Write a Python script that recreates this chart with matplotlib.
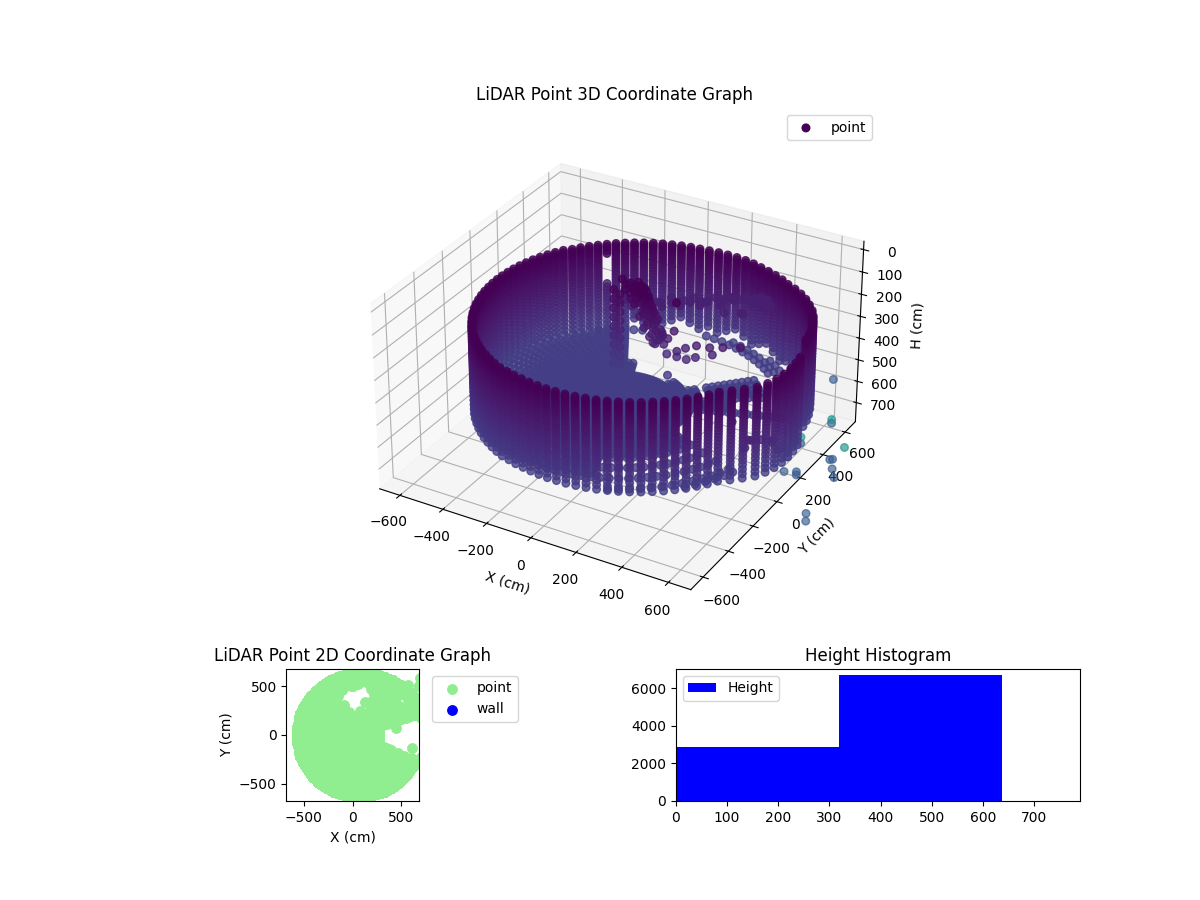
#lib for works with data
import numpy as np

#lib for plot bulding
import matplotlib
matplotlib.use("Agg")
import matplotlib.pyplot as plt
from mpl_toolkits.mplot3d import Axes3D

#DATA

#scan columns in polar form, degrees and cm
scan_angle = [
    0.0, 3.6, 7.2, 10.8, 14.4, 18.0, 21.6, 25.2, 28.8, 32.4, 36.0, 39.6, 43.2, 46.8, 50.4, 54.0, 57.6, 61.2, 64.8, 68.4,
    72.0, 75.6, 79.2, 82.8, 86.4, 90.0, 93.6, 97.2, 100.8, 104.4, 108.0, 111.6, 115.2, 118.8, 122.4, 126.0, 129.6, 133.2, 136.8, 140.4,
    144.0, 147.6, 151.2, 154.8, 158.4, 162.0, 165.6, 169.2, 172.8, 176.4, 180.0, 183.6, 187.2, 190.8, 194.4, 198.0, 201.6, 205.2, 208.8, 212.4,
    216.0, 219.6, 223.2, 226.8, 230.4, 234.0, 237.6, 241.2, 244.8, 248.4, 252.0, 255.6, 259.2, 262.8, 266.4, 270.0, 273.6, 277.2, 280.8, 284.4,
    288.0, 291.6, 295.2, 298.8, 302.4, 306.0, 309.6, 313.2, 316.8, 320.4, 324.0, 327.6, 331.2, 334.8, 338.4, 342.0, 345.6, 349.2, 352.8, 356.4,
]
wall_range = [
    756, 752, 703, 703, 730, 735, 738, 740, 741, 740, 735, 730, 722, 712, 700, 695, 688, 682, 676, 672,
    667, 660, 652, 645, 637, 630, 626, 622, 617, 613, 609, 605, 601, 597, 594, 590, 587, 584, 582, 579,
    584, 582, 580, 578, 577, 575, 574, 573, 572, 572, 572, 572, 572, 573, 574, 575, 577, 578, 580, 582,
    584, 587, 590, 592, 595, 598, 602, 605, 609, 613, 617, 617, 620, 622, 626, 630, 635, 639, 644, 648,
    652, 657, 661, 665, 669, 673, 676, 680, 683, 687, 689, 692, 694, 712, 730, 750, 758, 762, 762, 760,
]
#deepest height of each column, 0 means the column has no return
wall_bottom = [
    540, 540, 0, 0, 540, 540, 540, 540, 540, 540, 540, 540, 540, 540, 500, 520, 500, 480, 500, 520,
    500, 480, 500, 520, 500, 520, 500, 480, 500, 520, 500, 520, 500, 540, 540, 540, 540, 540, 540, 540,
    540, 540, 540, 540, 540, 540, 540, 540, 540, 540, 540, 540, 540, 540, 540, 540, 540, 540, 540, 540,
    540, 540, 540, 540, 540, 540, 540, 540, 540, 540, 540, 540, 540, 540, 540, 540, 540, 540, 540, 540,
    540, 540, 540, 540, 540, 540, 540, 540, 540, 540, 540, 540, 540, 540, 540, 540, 540, 540, 540, 540,
]
wall_levels = [150, 160, 170, 181, 192, 203, 215, 227, 239, 251, 264, 277, 290, 303, 317, 331, 346, 361, 376, 392, 408, 425, 443, 461, 480, 500, 520, 540]

#parts of a column with no return
strip_angle = [126.0]
strip_lo = [200]
strip_hi = [330]

#floor rings, and the sectors of floor that returned nothing
floor_height = 540
floor_radii = [25, 50, 75, 100, 125, 150, 175, 200, 225, 250, 275, 300, 325, 350, 375, 400, 425, 450, 475, 500, 525, 550, 575, 600, 625, 650, 675]
gap_angle_lo = [68, 108, 50, 339, 21, 30, 30, 290, 290, 290, 230]
gap_angle_hi = [108, 118, 68, 377, 30, 50, 50, 339, 339, 339, 290]
gap_range_lo = [210, 320, 275, 290, 430, 565, 310, 450, 525, 600, 590]
gap_range_hi = [610, 560, 610, 780, 650, 650, 340, 475, 550, 625, 680]

#object standing in the room
object_x = [-115, -77, -42, -11, -65, -33, 3, -51, -11, 21, -24, 12, 47, 3, 38, 70,
            -95, -60, -30, -80, -10, -40, 15, -60, 5, 35, -35, 0, 30, -15, 20, 55, -100, -75, 25, 60, 45, 75, 10, 35,
            -20, -5, -25, 5, -15, 10, -5, 20, -10, 15, 30, -20, 10, 40, 25, 50, -45, -30, -50, 60,
            -154, -154, -154, -154, -154, -154, -154, -154, -154,
            -125, -125, -125, -125, -125, -125, -125, -125, -125,
            66, 121, 93, 134, 173, 222, 281, 218, 177, 134, 26, 89, 293, 130, 339, 416, 93]
object_y = [200] * len(object_x)
object_h = [118, 126, 113, 134, 151, 172, 176, 188, 205, 218, 238, 255, 255, 293, 309, 322,
            135, 140, 150, 170, 185, 205, 200, 215, 230, 240, 265, 280, 285, 310, 330, 345, 160, 195, 265, 300, 350, 360, 345, 370,
            130, 145, 160, 165, 175, 185, 200, 210, 220, 228, 225, 250, 250, 270, 300, 320, 130, 125, 160, 330,
            176, 218, 259, 301, 343, 384, 426, 468, 510,
            190, 230, 270, 310, 350, 390, 430, 470, 510,
            309, 288, 330, 376, 351, 326, 318, 380, 401, 401, 367, 401, 347, 159, 301, 280, 497]

#returns in front of the rear wall, and low returns behind the front wall
high_x = [195, 247, 298, 178, 225, 268, 351, 571, 615, 452, 142, 60, -20, -95, -150, -170, 453, 540, 452, 530, 580,
          80, 130, 190, -35, -90, -150, -110, 0, 250, 260, 300, 230, -150, -200, 142, 60, -20, -95, 200, 250, 330, 330, 390, 440,
          -124, -170, -60, 443, 500, 400, 480]
high_y = [279, 352, 426, 336, 424, 503, 449, 517, -129, 75, 545, 525, 505, 485, 440, 370, 211, 252, 379, 282, 230,
          250, 340, 470, 240, 310, 400, 465, 500, 300, 400, 350, 480, 300, 330, 570, 590, 590, 570, 560, 520, 480, 400, 420, 330,
          530, 500, 555, 260, 240, 300, 300]
high_h = [172, 195, 267, 208, 285, 317, 217, 330, 500, 540, 331, 345, 358, 372, 363, 335, 695, 700, 170, 708, 713,
          172, 204, 254, 204, 254, 322, 345, 326, 150, 195, 158, 249, 267, 299, 322, 358, 381, 395, 299, 263, 217, 176, 167, 150,
          381, 381, 376, 726, 695, 122, 99]
high_c = [340] * len(high_x)

#far returns outside the room
far_x = [680, 680, 680, 700, 740, 745, 745, 750, 735, 735, 733, 735, 740, 745, 745, 735, 750, 750]
far_y = [500, 500, 500, 590, 370, 385, 385, 395, 110, 110, -43, -5, -18, 60, 60, -28, 150, 150]
far_h = [497, 683, 700, 856, 783, 788, 833, 878, 542, 570, 506, 538, 561, 670, 684, 624, 911, 947]
far_c = [760, 1240, 760, 1240, 760, 760, 760, 760, 1240, 760, 1240, 760, 760, 760, 760, 760, 760, 760]

#histogram bars
hist_left = [0, 319]
hist_width = [319, 319]
hist_count = [2870, 6700]

wall_x = []
wall_y = []

#CORE CODE

xs, ys, hs = [], [], []

#wall columns
for angle, rng, bottom in zip(scan_angle, wall_range, wall_bottom):
    for level in wall_levels:
        skip = bottom == 0 or level > bottom
        for s_angle, s_lo, s_hi in zip(strip_angle, strip_lo, strip_hi):
            if angle == s_angle and s_lo <= level <= s_hi:
                skip = True
        if not skip:
            xs.append(rng * np.cos(np.radians(angle)))
            ys.append(rng * np.sin(np.radians(angle)))
            hs.append(level)

#floor
for angle, rng in zip(scan_angle, wall_range):
    for radius in floor_radii:
        skip = radius > rng - 10
        for lo, hi, r_lo, r_hi in zip(gap_angle_lo, gap_angle_hi, gap_range_lo, gap_range_hi):
            if (lo <= angle <= hi or lo <= angle + 360 <= hi) and r_lo <= radius <= r_hi:
                skip = True
        if not skip:
            xs.append(radius * np.cos(np.radians(angle)))
            ys.append(radius * np.sin(np.radians(angle)))
            hs.append(floor_height)

cs = np.array(hs + object_h + high_c)
xs = np.array(xs + object_x + high_x)
ys = np.array(ys + object_y + high_y)
hs = np.array(hs + object_h + high_h)

fig = plt.figure(figsize=(12, 9), dpi=100)

#3D graph
ax3d = fig.add_axes([0.125, 0.2933, 0.775, 0.5867], projection="3d")
ax3d.scatter(xs, ys, hs, c=cs, cmap="viridis", vmin=150, vmax=2300, s=30, alpha=0.8, depthshade=False, label="point")
ax3d.scatter(far_x, far_y, far_h, c=far_c, cmap="viridis", vmin=150, vmax=2300, s=30, alpha=0.65, depthshade=False)
ax3d.set_xlim(-695, 695)
ax3d.set_ylim(-695, 695)
ax3d.set_zlim(790, -37)
ax3d.set_box_aspect((1390, 1390, 827))
ax3d.set_xlabel("X (cm)")
ax3d.set_ylabel("Y (cm)")
ax3d.set_zlabel("H (cm)")
ax3d.set_title("LiDAR Point 3D Coordinate Graph")
leg3d = ax3d.legend(loc="upper right", bbox_to_anchor=(872 / 1200, 1 - 115 / 900),
                    bbox_transform=fig.transFigure, borderaxespad=0)
leg3d.legend_handles[0].set_alpha(1)

#2D graph
ax2d = fig.add_axes([0.125, 0.11, 0.3375, 0.1467])
ax2d.scatter(np.concatenate([xs, far_x]), np.concatenate([ys, far_y]), c="lightgreen", s=46, label="point")
ax2d.scatter(wall_x, wall_y, c="blue", s=46, label="wall")
ax2d.set_xlim(-680, 680)
ax2d.set_ylim(-680, 680)
ax2d.set_aspect("equal")
ax2d.set_xlabel("X (cm)")
ax2d.set_ylabel("Y (cm)")
ax2d.set_title("LiDAR Point 2D Coordinate Graph")
ax2d.legend(loc="upper left", bbox_to_anchor=(1.05, 1))

#histogram
ax_hist = fig.add_axes([0.5633, 0.11, 0.3367, 0.1467])
ax_hist.bar(hist_left, hist_count, width=hist_width, align="edge", color="blue", label="Height")
ax_hist.set_xlim(0, 790)
ax_hist.set_title("Height Histogram")
ax_hist.legend(loc="upper left")

fig.savefig("out.png")
